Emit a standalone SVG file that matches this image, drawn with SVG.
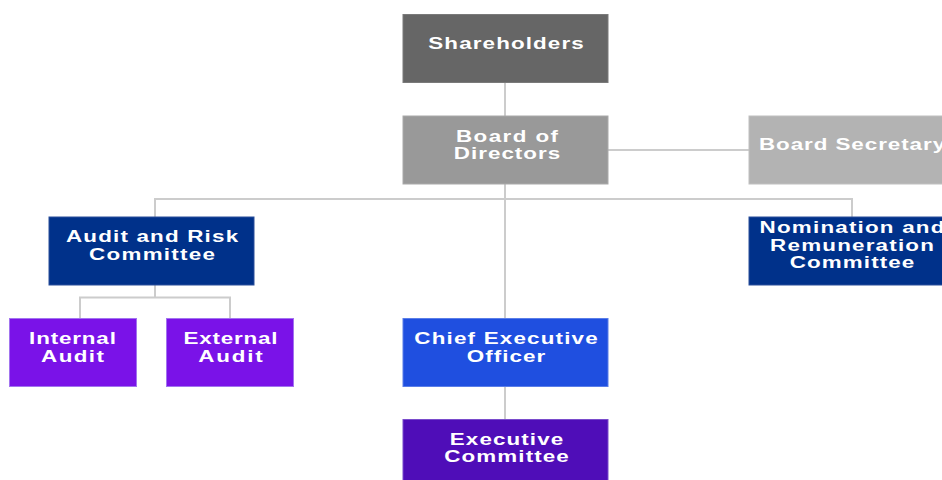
<svg xmlns="http://www.w3.org/2000/svg" width="942" height="480" viewBox="0 0 942 480">
<style>
.box{stroke-width:1}
.lbl{font-family:"Liberation Sans",Arial,sans-serif;font-weight:bold;font-size:16px;fill:#ffffff;text-anchor:middle}
.conn{stroke:#cccccc;stroke-width:2;fill:none}
</style>
<rect width="942" height="480" fill="#ffffff"/>
<g id="connectors">
<path class="conn" d="M505,82 V116"/>
<path class="conn" d="M608,150 H749"/>
<path class="conn" d="M505,184 V318"/>
<path class="conn" d="M155,217 V199 H852 V217"/>
<path class="conn" d="M155,285 V297.5 M80,318 V297.5 H230 V318"/>
<path class="conn" d="M505,386 V419"/>
</g>
<g id="shareholders">
<rect class="box" x="403" y="14.5" width="205" height="68" fill="#666666" stroke="#7a7a7a"/>
<g transform="translate(506,0) scale(1.4,1)"><text class="lbl" x="0" y="49.5" textLength="111" lengthAdjust="spacing">Shareholders</text></g>
</g>
<g id="board">
<rect class="box" x="403" y="116" width="205" height="68" fill="#999999" stroke="#aaaaaa"/>
<g transform="translate(507,0) scale(1.4,1)"><text class="lbl" x="0" y="141.7" textLength="73" lengthAdjust="spacing">Board of</text>
<text class="lbl" x="0" y="159.5" textLength="76" lengthAdjust="spacing">Directors</text></g>
</g>
<g id="secretary">
<rect class="box" x="749" y="116" width="205" height="68" fill="#b3b3b3" stroke="#c0c0c0"/>
<g transform="translate(852,0) scale(1.4,1)"><text class="lbl" x="0" y="150" textLength="133" lengthAdjust="spacing">Board Secretary</text></g>
</g>
<g id="audit-risk">
<rect class="box" x="49" y="217" width="205" height="68" fill="#00318a" stroke="#2a4f9a"/>
<g transform="translate(152,0) scale(1.4,1)"><text class="lbl" x="0" y="241.7" textLength="123" lengthAdjust="spacing">Audit and Risk</text>
<text class="lbl" x="0" y="260" textLength="90" lengthAdjust="spacing">Committee</text></g>
</g>
<g id="nomination">
<rect class="box" x="749" y="217" width="205" height="68" fill="#00318a" stroke="#2a4f9a"/>
<g transform="translate(852,0) scale(1.4,1)"><text class="lbl" x="0" y="232.7" textLength="132" lengthAdjust="spacing">Nomination and</text>
<text class="lbl" x="0" y="250.7" textLength="117" lengthAdjust="spacing">Remuneration</text>
<text class="lbl" x="0" y="268.5" textLength="89" lengthAdjust="spacing">Committee</text></g>
</g>
<g id="internal-audit">
<rect class="box" x="9.5" y="318.5" width="127" height="68" fill="#7a12e8" stroke="#a274ef"/>
<g transform="translate(72.5,0) scale(1.4,1)"><text class="lbl" x="0" y="344" textLength="62" lengthAdjust="spacing">Internal</text>
<text class="lbl" x="0" y="361.7" textLength="45" lengthAdjust="spacing">Audit</text></g>
</g>
<g id="external-audit">
<rect class="box" x="166.5" y="318.5" width="127" height="68" fill="#7a12e8" stroke="#a274ef"/>
<g transform="translate(230.5,0) scale(1.4,1)"><text class="lbl" x="0" y="344" textLength="67" lengthAdjust="spacing">External</text>
<text class="lbl" x="0" y="361.7" textLength="46" lengthAdjust="spacing">Audit</text></g>
</g>
<g id="ceo">
<rect class="box" x="403" y="318.5" width="205" height="68" fill="#1f4fe0" stroke="#5a7ee8"/>
<g transform="translate(506,0) scale(1.4,1)"><text class="lbl" x="0" y="344.3" textLength="131" lengthAdjust="spacing">Chief Executive</text>
<text class="lbl" x="0" y="361.7" textLength="56" lengthAdjust="spacing">Officer</text></g>
</g>
<g id="exec-committee">
<rect class="box" x="403" y="419.5" width="205" height="68" fill="#4f0db8" stroke="#7a4ccc"/>
<g transform="translate(506.5,0) scale(1.4,1)"><text class="lbl" x="0" y="445" textLength="81" lengthAdjust="spacing">Executive</text>
<text class="lbl" x="0" y="462.3" textLength="89" lengthAdjust="spacing">Committee</text></g>
</g>
</svg>
